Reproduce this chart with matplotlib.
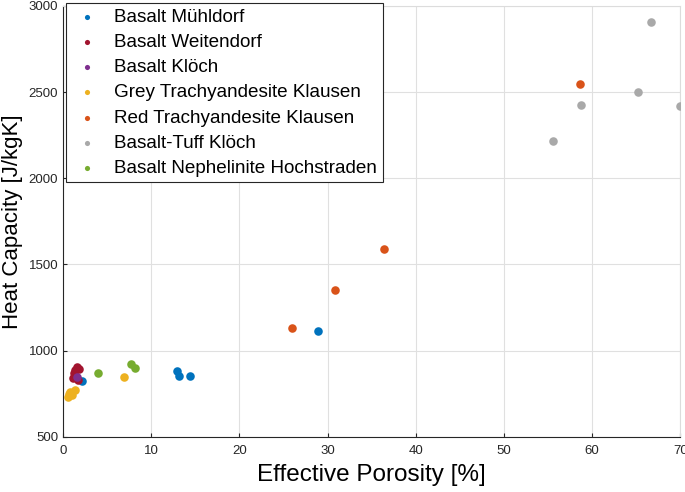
import matplotlib
matplotlib.use("Agg")
import matplotlib.pyplot as plt

plt.rcParams['font.family'] = ['Liberation Sans', 'DejaVu Sans']

# porosity [%] and heat capacity [J/kgK] per rock type
muehldorf_x = [12.9, 13.2, 14.4, 28.9, 2.1]
muehldorf_y = [883, 854, 852, 1115, 827]
weitendorf_x = [1.55, 1.36, 1.15, 1.7, 1.8, 1.2]
weitendorf_y = [905, 889, 842, 830, 895, 870]
kloech_x = [1.55]
kloech_y = [850]
grey_x = [6.9, 0.8, 0.6, 1.4, 0.98, 0.7]
grey_y = [850, 763, 734, 772, 744, 750]
red_x = [26.0, 30.8, 36.4, 58.6]
red_y = [1133, 1350, 1588, 2545]
tuff_x = [55.6, 58.8, 65.2, 70.0, 66.7]
tuff_y = [2218, 2425, 2500, 2418, 2905]
hoch_x = [4.0, 7.7, 8.2]
hoch_y = [871, 925, 898]

series = [
    ("Basalt Mühldorf", muehldorf_x, muehldorf_y, "#0072BD"),
    ("Basalt Weitendorf", weitendorf_x, weitendorf_y, "#A2142F"),
    ("Basalt Klöch", kloech_x, kloech_y, "#7E2F8E"),
    ("Grey Trachyandesite Klausen", grey_x, grey_y, "#EDB120"),
    ("Red Trachyandesite Klausen", red_x, red_y, "#D95319"),
    ("Basalt-Tuff Klöch", tuff_x, tuff_y, "#A9A9A9"),
    ("Basalt Nephelinite Hochstraden", hoch_x, hoch_y, "#77AC30"),
]

fig = plt.figure(figsize=(6.85, 4.92), dpi=100)
ax = fig.add_axes([0.092, 0.112, 0.901, 0.876])

for name, x, y, c in series:
    ax.scatter(x, y, s=38, color=c, label=name, zorder=3, linewidths=0)

ax.set_xlim(0, 70)
ax.set_ylim(500, 3000)
ax.set_xticks(range(0, 71, 10))
ax.set_yticks(range(500, 3001, 500))
ax.grid(True, color="#e0e0e0", linewidth=0.8)
ax.set_axisbelow(True)
ax.tick_params(direction="in", length=3, labelsize=9.5, colors="#262626")
ax.tick_params(axis="x", pad=6)
for s in ["left", "bottom"]:
    ax.spines[s].set_color("#262626")
for s in ["top", "right"]:
    ax.spines[s].set_color("#dcdcdc")

ax.set_xlabel("Effective Porosity [%]", fontsize=17.5, labelpad=5)
ax.set_ylabel("Heat Capacity [J/kgK]", fontsize=16, labelpad=4)

leg = ax.legend(loc="upper left", bbox_to_anchor=(66 / 685, 1 - 3 / 492),
                bbox_transform=fig.transFigure, fontsize=13.6, markerscale=0.6,
                frameon=True, fancybox=False, edgecolor="#262626",
                borderaxespad=0.0, handlelength=1.6, handletextpad=0.65,
                labelspacing=0.42, borderpad=0.3, framealpha=1)
leg.get_frame().set_linewidth(0.8)

fig.savefig("out.png", dpi=100)
